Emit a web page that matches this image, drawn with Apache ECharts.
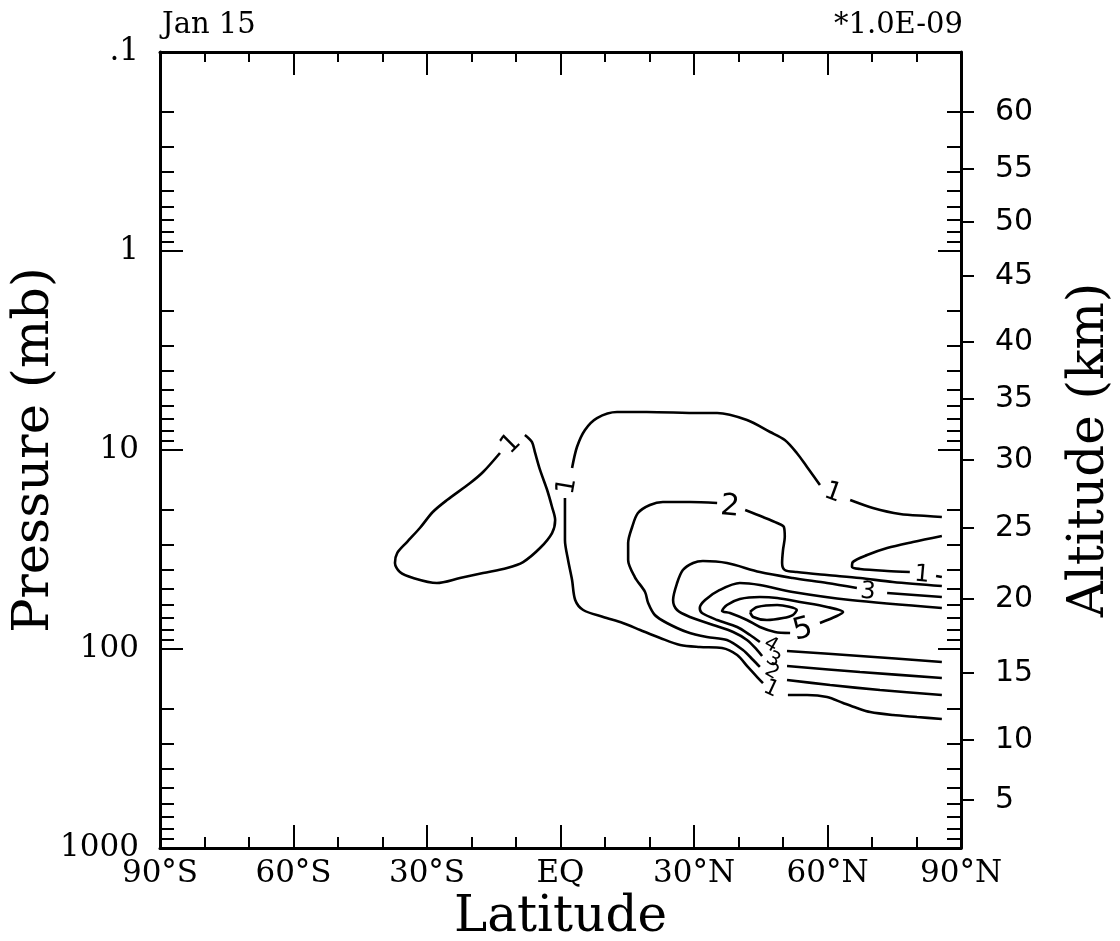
<!DOCTYPE html>
<html>
<head>
<meta charset="utf-8">
<script src="https://cdn.jsdelivr.net/npm/echarts@6/dist/echarts.min.js"></script>
<style>
  html, body { margin: 0; padding: 0; background: #fff; }
  #chart { width: 1120px; height: 941px; }
</style>
</head>
<body>
<div id="chart"></div>
<script>
// ---- Axis ticks ----
const pressureMajor = [0.1, 1, 10, 100, 1000];          // mb, labelled decades
const pressureMinorSteps = [2, 3, 4, 5, 6, 7, 8, 9];     // intermediate log ticks
const altitudeKm = [5, 10, 15, 20, 25, 30, 35, 40, 45, 50, 55, 60];
const altitudePressure = [574, 287, 132, 56.1, 24.7, 11.2, 5.54, 2.87, 1.336, 0.714, 0.387, 0.200];

// ---- Contour polylines: [latitude (deg, S negative), pressure (mb)] ----
const level1South = [[-13.6,10.35],[-17.4,12.9],[-20.3,14.65],[-25.5,17.84],[-28.7,20.49],[-31.6,24.66],
  [-34.5,29.0],[-36.7,32.94],[-37.2,36.97],[-36.1,41.04],[-33.1,43.99],[-27.8,46.6],[-22.6,43.99],
  [-17.4,41.52],[-12.0,39.17],[-8.4,36.55],[-4.6,31.09],[-1.9,26.13],[-1.2,22.48],[-1.9,19.34],
  [-3.0,15.89],[-4.6,12.6],[-5.7,10.35],[-6.4,9.12],[-8.0,8.40]];
const level1Top = [[2.6,12.32],[3.7,9.66],[5.5,7.93],[8.2,6.91],[12.7,6.44],[19.4,6.44],[31.3,6.52],
  [35.2,6.52],[41.9,7.07],[47.1,8.12],[50.4,8.91],[53.1,10.35],[55.4,12.17],[58.3,14.99]];
const level1TopEast = [[65.1,17.84],[70.2,19.56],[76.3,20.97],[82.4,21.46],[85.7,21.71]];
const level1Bottom = [[1.0,17.43],[1.0,28.34],[1.7,35.72],[2.6,45.02],[3.3,56.72],[5.1,63.68],[9.6,69.06],
  [14.0,74.01],[17.9,80.26],[22.4,88.05],[26.9,95.45],[31.3,97.7],[36.3,98.85],[39.7,107.2],
  [42.1,123.1],[44.4,139.9],[45.5,148.3]];
const level1BottomEast = [[51.1,170.3],[55.4,170.3],[59.9,174.3],[63.5,186.8],[66.6,197.9],[69.6,207.3],
  [74.7,214.6],[80.1,219.6],[85.7,224.8]];
const level1Tongue = [[85.7,27.05],[79.2,29.0],[73.4,31.09],[68.9,33.71],[65.7,36.55],[65.5,38.72],
  [67.3,39.63],[73.4,40.56],[78.5,41.04]];
const level1TongueEnd = [[84.4,42.98],[85.7,43.48]];

const level2West = [[35.2,18.46],[29.1,18.25],[23.0,18.25],[20.1,18.9],[17.4,20.73],[16.1,24.37],
  [15.2,29.34],[15.2,35.72],[16.7,43.48],[19.0,51.7],[19.7,58.72],[21.2,67.48],[23.9,74.01],
  [28.4,82.14],[32.9,87.04],[37.4,90.14],[41.0,101.2],[43.3,113.6],[44.8,123.1]];
const level2BottomEast = [[50.9,143.2],[60.6,151.7],[71.8,160.7],[85.7,170.3]];
const level2East = [[41.5,20.02],[45.5,21.71],[48.7,23.27],[50.2,24.37],[50.4,27.37],[50.0,31.81],
  [49.8,36.97],[50.4,40.09],[53.1,41.04],[59.9,42.49],[67.3,43.99],[74.7,46.07],[85.7,48.26]];

const level3TopEast = [[85.7,54.78],[73.4,52.3]];
const level3Loop = [[66.6,49.39],[59.9,46.6],[52.2,43.99],[44.8,41.04],[37.4,36.97],[32.0,36.13],
  [29.8,36.97],[27.5,40.09],[26.2,46.6],[25.3,56.72],[26.2,63.68],[29.1,69.06],[34.3,75.77],
  [38.8,82.14],[41.9,90.14],[44.2,101.2],[45.3,108.4]];
const level3BottomEast = [[50.9,121.7],[67.3,130.5],[85.7,139.9]];

const level4Loop = [[85.7,62.23],[65.1,56.72],[52.2,51.7],[44.8,47.7],[40.3,46.6],[35.8,50.5],
  [32.5,56.72],[31.3,62.23],[31.8,65.94],[35.2,71.5],[39.7,77.52],[42.6,85.04],[44.8,92.21]];
const level4BottomEast = [[50.9,102.3],[67.3,108.4],[85.7,116.2]];

const level5Loop = [[51.6,83.1],[48.2,82.14],[44.8,77.52],[41.9,71.5],[38.1,65.94],[36.3,64.42],
  [37.4,60.1],[40.3,56.08],[44.8,54.78],[48.7,55.42],[53.8,58.05],[59.9,61.5],[63.5,65.19],
  [62.1,68.27],[58.3,74.01]];

const level6Core = [[42.6,65.19],[44.2,61.5],[48.7,60.1],[53.1,63.68],[52.2,67.48],[50.0,69.86],
  [46.4,71.5],[43.3,69.06],[42.6,65.19]];

// Contour value labels: [latitude, pressure, level]
const contourLabels = [
  [-11.1, 9.33, 1], [1.5, 15.2, 1], [61.2, 16.45, 1], [81.2, 42.49, 1],
  [38.1, 19.34, 2], [69.1, 51.7, 3], [54.5, 80.26, 5],
  [47.3, 95.45, 4], [47.8, 113.6, 3], [47.5, 130.5, 2], [47.3, 158.9, 1]
];

// ---- Build the chart ----
const contourPaths = [level1South, level1Top, level1TopEast, level1Bottom, level1BottomEast,
  level1Tongue, level1TongueEnd, level2West, level2BottomEast, level2East,
  level3TopEast, level3Loop, level3BottomEast, level4Loop, level4BottomEast,
  level5Loop, level6Core];

const labelRotation = [45, 80, -20, -5, -5, -5, 15, -30, -30, -30, -25];
const labelSize = [26, 26, 26, 24, 30, 24, 30, 20, 20, 20, 22];

const pressureMinor = [];
pressureMajor.slice(0, -1).forEach(d => pressureMinorSteps.forEach(m => pressureMinor.push(+(d * m).toPrecision(3))));

const serif = 'DejaVu Serif';
const black = '#000';

function latLabel(v) {
  if (v === 0) return 'EQ';
  return Math.abs(v) + '°' + (v < 0 ? 'S' : 'N');
}
function pressureLabel(v) {
  return String(v).replace(/^0\./, '.');
}
function altitudeLabel(v) {
  let best = 0;
  altitudePressure.forEach((p, i) => {
    if (Math.abs(Math.log(p / v)) < Math.abs(Math.log(altitudePressure[best] / v))) best = i;
  });
  return String(altitudeKm[best]);
}

function latAxis(position, showLabels, minorLen) {
  return {
    type: 'value', min: -90, max: 90, interval: 30, position: position,
    axisLine: { show: true, onZero: false, lineStyle: { color: black, width: 3 } },
    axisTick: { show: true, inside: true, length: 23, lineStyle: { color: black, width: 2 } },
    minorTick: { show: true, splitNumber: 3, length: minorLen, lineStyle: { color: black, width: 2 } },
    axisLabel: { show: showLabels, formatter: latLabel, margin: 10, color: black,
      fontFamily: serif, fontSize: 31 },
    splitLine: { show: false }, minorSplitLine: { show: false }
  };
}

function pressureAxis(position, ticks, tickLen, inside, extra) {
  return Object.assign({
    type: 'log', logBase: 10, min: 0.1, max: 1000, inverse: true, position: position,
    axisLine: { show: false, onZero: false },
    axisTick: { show: true, inside: inside, length: tickLen, customValues: ticks,
      lineStyle: { color: black, width: 2 } },
    minorTick: { show: false },
    axisLabel: { show: false },
    splitLine: { show: false }, minorSplitLine: { show: false }
  }, extra || {});
}

const option = {
  backgroundColor: '#fff',
  animation: false,
  grid: { left: 160, top: 52, width: 801, height: 796, containLabel: false, outerBoundsMode: 'none' },
  xAxis: [
    Object.assign(latAxis('bottom', true, 11), {
      name: 'Latitude', nameLocation: 'middle', nameGap: 45, nameMoveOverlap: false,
      nameTextStyle: { fontFamily: serif, fontSize: 50, color: black }
    }),
    latAxis('top', false, 10)
  ],
  yAxis: [
    pressureAxis('left', pressureMajor, 23, true, {
      axisLine: { show: true, onZero: false, lineStyle: { color: black, width: 3 } },
      axisLabel: { show: true, customValues: pressureMajor, formatter: pressureLabel, margin: 21,
        color: black, fontFamily: serif, fontSize: 31 },
      name: 'Pressure (mb)', nameLocation: 'middle', nameGap: 100, nameMoveOverlap: false,
      nameTextStyle: { fontFamily: serif, fontSize: 51, color: black }
    }),
    pressureAxis('left', pressureMinor, 14, true),
    pressureAxis('right', pressureMajor, 23, true, {
      axisLine: { show: true, onZero: false, lineStyle: { color: black, width: 3 } }
    }),
    pressureAxis('right', pressureMinor, 14, true),
    pressureAxis('right', altitudePressure, 13, false, {
      axisLabel: { show: true, customValues: altitudePressure, formatter: altitudeLabel, margin: 34,
        color: black, fontFamily: 'DejaVu Sans', fontSize: 30 },
      name: 'Altitude (km)', nameLocation: 'middle', nameGap: 104, nameMoveOverlap: false,
      nameTextStyle: { fontFamily: serif, fontSize: 50, color: black }
    })
  ],
  graphic: [
    { type: 'text', x: 162, y: 25, style: { text: 'Jan 15', font: '29px "DejaVu Serif"',
      fill: black, align: 'left', verticalAlign: 'middle' } },
    { type: 'text', x: 963, y: 25, style: { text: '*1.0E-09', font: '29px "DejaVu Serif"',
      fill: black, align: 'right', verticalAlign: 'middle' } }
  ],
  series: contourPaths.map(path => ({
    type: 'line', xAxisIndex: 0, yAxisIndex: 0, data: path,
    symbol: 'none', showSymbol: false, smooth: 0.3, silent: true,
    lineStyle: { color: black, width: 2.6 }
  })).concat([{
    type: 'scatter', xAxisIndex: 0, yAxisIndex: 0, silent: true,
    symbolSize: 1, itemStyle: { color: 'transparent', opacity: 1 },
    label: { show: true, position: 'inside', color: black, opacity: 1, textBorderWidth: 0,
      fontFamily: 'DejaVu Sans', formatter: p => String(p.value[2]) },
    data: contourLabels.map((d, i) => ({
      value: d,
      label: { rotate: labelRotation[i], fontSize: labelSize[i] }
    }))
  }])
};

const chart = echarts.init(document.getElementById('chart'), null, { renderer: 'canvas' });
chart.setOption(option);
</script>
</body>
</html>
